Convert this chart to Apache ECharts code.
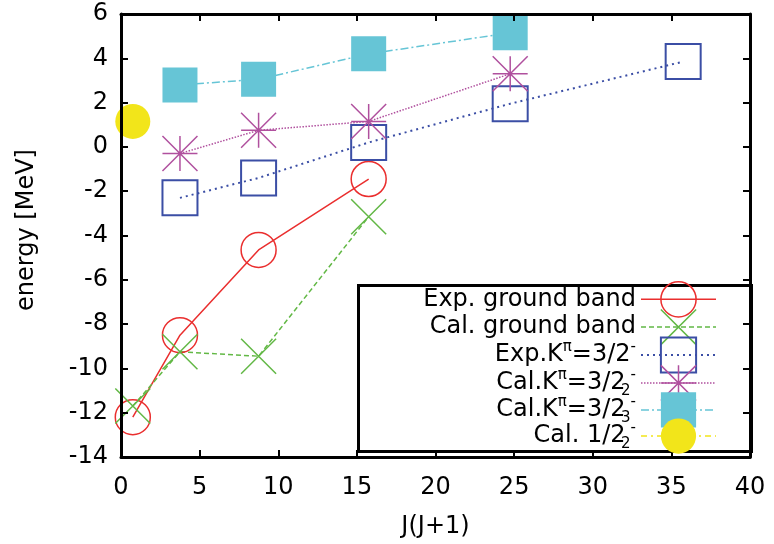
<!DOCTYPE html>
<html>
<head>
<meta charset="utf-8">
<script src="https://cdn.jsdelivr.net/npm/echarts@6/dist/echarts.min.js"></script>
<style>
html,body{margin:0;padding:0;background:#fff;}
#chart{width:774px;height:544px;}
</style>
</head>
<body>
<div id="chart"></div>
<script>
// ---- data ----
const seriesNames = ['Exp. ground band', 'Cal. ground band', 'Exp.K\u03c0=3/2-', 'Cal.K\u03c0=3/2_2-', 'Cal.K\u03c0=3/2_3-', 'Cal. 1/2_2-'];
const legendLabels = [
  'Exp. ground band',
  'Cal. ground band',
  'Exp.K{sup|\u03c0}=3/2{sup|-}',
  'Cal.K{sup|\u03c0}=3/2{sub|2}{sup|-}',
  'Cal.K{sup|\u03c0}=3/2{sub|3}{sup|-}',
  'Cal. 1/2{sub|2}{sup|-}'
];
const xExpGround = [0.75, 3.75, 8.75, 15.75];
const yExpGround = [-12.2, -8.5, -4.65, -1.45];
const xCalGround = [0.75, 3.75, 8.75, 15.75];
const yCalGround = [-11.7, -9.25, -9.45, -3.15];
const xExpK = [3.75, 8.75, 15.75, 24.75, 35.75];
const yExpK = [-2.3, -1.4, 0.2, 1.95, 3.85];
const xCalK2 = [3.75, 8.75, 15.75, 24.75];
const yCalK2 = [-0.3, 0.75, 1.15, 3.3];
const xCalK3 = [3.75, 8.75, 15.75, 24.75];
const yCalK3 = [2.8, 3.05, 4.2, 5.15];
const xCalHalf = [0.75];
const yCalHalf = [1.15];
const xMin = 0, xMax = 40, xStep = 5;
const yMin = -14, yMax = 6, yStep = 2;

// ---- styling ----
const FONT = 'DejaVu Sans';
const pairs = (xs, ys) => xs.map((x, i) => [x, ys[i]]);
const SYM_X = 'path://M0,0L10,10M10,0L0,10';
const SYM_AST = 'path://M0,5L10,5M5,0L5,10M0,0L10,10M10,0L0,10';
const NONE = 'rgba(0,0,0,0)';

const styles = [
  {color: '#ea2e2e', symbol: 'circle', fill: NONE, bw: 1.5, lw: 1.5, type: 'solid'},
  {color: '#62b845', symbol: SYM_X, fill: NONE, bw: 1.5, lw: 1.5, type: [5, 3]},
  {color: '#3b4ea5', symbol: 'rect', fill: NONE, bw: 2, lw: 2, type: [2, 4]},
  {color: '#b0509e', symbol: SYM_AST, fill: NONE, bw: 1.5, lw: 1.5, type: [1.5, 1.5]},
  {color: '#66c5d6', symbol: 'rect', fill: '#66c5d6', bw: 0, lw: 1.5, type: [8, 3, 2, 3]},
  {color: '#f2e51a', symbol: 'circle', fill: '#f2e51a', bw: 0, lw: 1.5, type: [6, 4, 2, 4]}
];
const dataSets = [
  pairs(xExpGround, yExpGround),
  pairs(xCalGround, yCalGround),
  pairs(xExpK, yExpK),
  pairs(xCalK2, yCalK2),
  pairs(xCalK3, yCalK3),
  pairs(xCalHalf, yCalHalf)
];

const series = seriesNames.map((name, i) => {
  const s = styles[i];
  return {
    name: name,
    type: 'line',
    data: dataSets[i],
    symbol: s.symbol,
    symbolSize: 35,
    clip: false,
    z: 2,
    lineStyle: {color: s.color, width: s.lw, type: s.type},
    itemStyle: {color: s.fill, borderColor: s.color, borderWidth: s.bw},
    emphasis: {disabled: true}
  };
});

const labelMap = {};
seriesNames.forEach((n, i) => { labelMap[n] = legendLabels[i]; });

const axisCommon = {
  type: 'value',
  z: 5,
  axisLine: {show: true, onZero: false, lineStyle: {color: '#000', width: 3}},
  axisTick: {show: true, inside: true, length: 7, lineStyle: {color: '#000', width: 2}},
  splitLine: {show: false}
};

const chart = echarts.init(document.getElementById('chart'), null, {renderer: 'canvas'});
chart.setOption({
  animation: false,
  backgroundColor: '#fff',
  grid: {left: 121, right: 24, top: 14, bottom: 85},
  xAxis: [
    Object.assign({}, axisCommon, {
      position: 'bottom', min: xMin, max: xMax, interval: xStep,
      name: 'J(J+1)', nameLocation: 'middle', nameGap: 58,
      nameTextStyle: {fontFamily: FONT, fontSize: 24, color: '#000'},
      axisLabel: {fontFamily: FONT, fontSize: 24, color: '#000', margin: 19}
    }),
    Object.assign({}, axisCommon, {
      position: 'top', min: xMin, max: xMax, interval: xStep,
      axisLabel: {show: false}
    })
  ],
  yAxis: [
    Object.assign({}, axisCommon, {
      position: 'left', min: yMin, max: yMax, interval: yStep,
      name: 'energy [MeV]', nameLocation: 'middle', nameGap: 82,
      nameTextStyle: {fontFamily: FONT, fontSize: 24, color: '#000', padding: [0, 0, 0, 11]},
      axisLabel: {fontFamily: FONT, fontSize: 24, color: '#000', margin: 13}
    }),
    Object.assign({}, axisCommon, {
      position: 'right', min: yMin, max: yMax, interval: yStep,
      axisLabel: {show: false}
    })
  ],
  legend: {
    orient: 'vertical',
    right: 57,
    top: 281,
    align: 'right',
    itemWidth: 75,
    itemHeight: 44,
    itemGap: -9,
    padding: 0,
    selectedMode: false,
    z: 6,
    data: seriesNames.map((n, i) => ({
      name: n,
      itemStyle: {color: styles[i].fill, borderColor: styles[i].color, borderWidth: styles[i].bw},
      lineStyle: {color: styles[i].color, width: styles[i].lw, type: styles[i].type}
    })),
    formatter: (name) => labelMap[name],
    textStyle: {
      fontFamily: FONT, fontSize: 24, color: '#000',
      rich: {
        sup: {fontFamily: FONT, fontSize: 15, color: '#000', padding: [0, 0, 16, 0]},
        sub: {fontFamily: FONT, fontSize: 15, color: '#000', padding: [16, 0, 0, 0], width: 5}
      }
    }
  },
  graphic: [{
    type: 'rect',
    left: 357, top: 284,
    z: 4,
    shape: {width: 393, height: 166},
    style: {fill: NONE, stroke: '#000', lineWidth: 3}
  }],
  series: series
});
</script>
</body>
</html>
